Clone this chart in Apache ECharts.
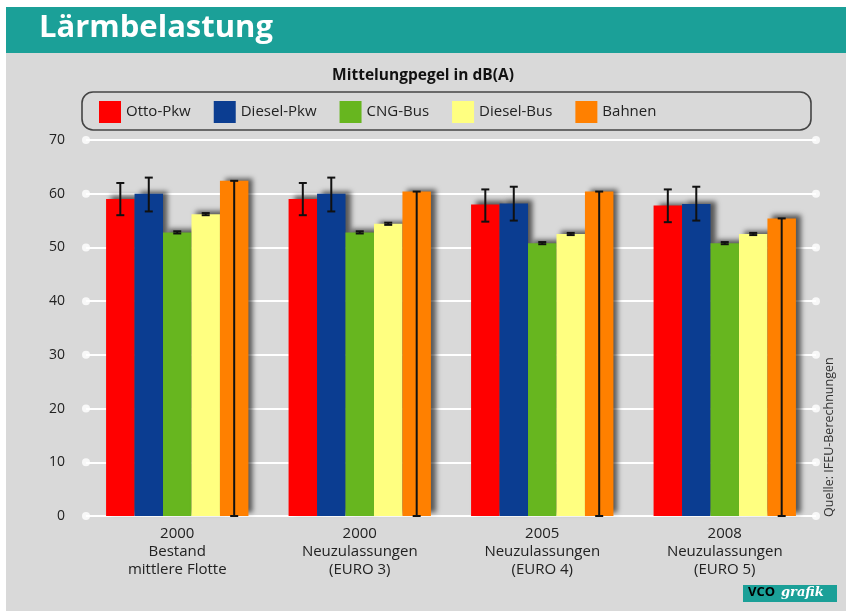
<!DOCTYPE html>
<html lang="de">
<head>
	<meta charset="utf-8">
	<title>Lärmbelastung</title>
	<script src="https://cdn.jsdelivr.net/npm/echarts@6/dist/echarts.min.js"></script>
	<style>
		html, body { margin: 0; padding: 0; background: #fff; }
		#chart { width: 846px; height: 611px; }
	</style>
</head>
<body>
<div id="chart"></div>
<script type="text/javascript">
	// Werte
	var categories = ['2000\nBestand\nmittlere Flotte', '2000\nNeuzulassungen\n(EURO 3)',
		'2005\nNeuzulassungen\n(EURO 4)', '2008\nNeuzulassungen\n(EURO 5)'];
	var seriesNames = ['Otto-Pkw', 'Diesel-Pkw', 'CNG-Bus', 'Diesel-Bus', 'Bahnen'];
	var seriesColors = ['#ff0000', '#0b3d91', '#67b61f', '#ffff80', '#ff8000'];

	var ottoPkw   = [59.0, 59.0, 58.0, 57.8];
	var dieselPkw = [60.0, 60.0, 58.2, 58.1];
	var cngBus    = [52.8, 52.8, 50.8, 50.8];
	var dieselBus = [56.2, 54.4, 52.5, 52.5];
	var bahnen    = [62.4, 60.4, 60.4, 55.4];

	// Fehlerbalken [unten, oben]
	var ottoErr   = [[56.0, 62.0], [56.0, 62.0], [54.8, 60.8], [54.7, 60.8]];
	var dieselErr = [[56.7, 63.0], [56.7, 63.0], [55.0, 61.3], [55.0, 61.3]];
	var cngErr    = [[52.6, 53.0], [52.6, 53.0], [50.6, 51.0], [50.6, 51.0]];
	var dbusErr   = [[56.0, 56.4], [54.2, 54.6], [52.3, 52.7], [52.3, 52.7]];
	var bahnenErr = [[0, 62.4], [0, 60.4], [0, 60.4], [0, 55.4]];

	var yTicks = [0, 10, 20, 30, 40, 50, 60, 70];

	var values = [ottoPkw, dieselPkw, cngBus, dieselBus, bahnen];
	var errors = [ottoErr, dieselErr, cngErr, dbusErr, bahnenErr];
	var catGap = 0.22;

	var myChart = echarts.init(document.getElementById('chart'));

	var barSeries = seriesNames.map(function (name, i) {
		return {
			name: name,
			type: 'bar',
			barGap: 0,
			barCategoryGap: (catGap * 100) + '%',
			data: values[i],
			itemStyle: {
				color: seriesColors[i],
				shadowColor: 'rgba(0,0,0,0.6)',
				shadowBlur: 5,
				shadowOffsetX: 5,
				shadowOffsetY: -3
			},
			z: 2
		};
	});

	var errData = [];
	errors.forEach(function (arr, s) {
		arr.forEach(function (e, c) {
			errData.push([c, s, e[0], e[1]]);
		});
	});

	var errSeries = {
		type: 'custom',
		data: errData,
		encode: { x: 0, y: [2, 3] },
		z: 5,
		silent: true,
		renderItem: function (params, api) {
			var c = api.value(0), s = api.value(1);
			var band = api.size([1, 0])[0];
			var bw = band * (1 - catGap) / seriesNames.length;
			var base = api.coord([c, 0]);
			var x = base[0] + (s - (seriesNames.length - 1) / 2) * bw;
			var lo = api.coord([c, api.value(2)])[1];
			var hi = api.coord([c, api.value(3)])[1];
			var st = { stroke: '#111', lineWidth: 2 };
			var cap = 4;
			return {
				type: 'group',
				children: [
					{ type: 'line', shape: { x1: x, y1: lo, x2: x, y2: hi }, style: st },
					{ type: 'line', shape: { x1: x - cap, y1: hi, x2: x + cap, y2: hi }, style: st },
					{ type: 'line', shape: { x1: x - cap, y1: lo, x2: x + cap, y2: lo }, style: st }
				]
			};
		}
	};

	var dotData = [];
	yTicks.forEach(function (t) { dotData.push([0, t]); dotData.push([1, t]); });

	var dotSeries = {
		type: 'scatter',
		xAxisIndex: 1,
		data: dotData,
		symbolSize: 8,
		itemStyle: { color: '#ffffff' },
		silent: true,
		z: 1
	};

	var option = {
		backgroundColor: '#ffffff',
		animation: false,
		textStyle: { fontFamily: 'Open Sans' },
		graphic: [
			{ type: 'rect', shape: { x: 6, y: 52, width: 840, height: 559 }, style: { fill: '#d9d9d9' }, z: -10 },
			{ type: 'rect', shape: { x: 6, y: 7, width: 840, height: 46 }, style: { fill: '#1ba098' }, z: -10 },
			{ type: 'text', left: 39, top: 13, style: { text: 'Lärmbelastung', fill: '#ffffff', font: 'bold 31px "Open Sans"' } },
			{ type: 'text', left: 'center', top: 68, style: { text: 'Mittelungpegel in dB(A)', fill: '#111', font: 'bold 15.5px "Open Sans"' } },
			{ type: 'rect', shape: { x: 82, y: 92, width: 729, height: 38, r: 11 }, style: { fill: 'none', stroke: '#444', lineWidth: 1.6 }, z: -5 },
			{ type: 'text', x: 823, y: 517, rotation: Math.PI / 2, style: { text: 'Quelle: IFEU-Berechnungen', fill: '#333', font: '12.5px "Open Sans"' } },
			{ type: 'rect', shape: { x: 743, y: 585, width: 94, height: 17 }, style: { fill: '#1ba098' } },
			{ type: 'text', x: 748, y: 586, style: { text: 'VCO', fill: '#000', font: 'bold 13px "Open Sans"' } },
			{ type: 'text', x: 781, y: 586, style: { text: 'grafik', fill: '#ffffff', font: 'italic bold 13px "DejaVu Serif"' } }
		],
		legend: {
			data: seriesNames,
			left: 99,
			top: 101,
			padding: 0,
			itemWidth: 22,
			itemHeight: 22,
			itemGap: 23,
			icon: 'rect',
			textStyle: { color: '#222', fontSize: 15, width: 101, fontFamily: 'Open Sans' }
		},
		grid: { left: 86, right: 30, top: 140, bottom: 95 },
		xAxis: [
			{
				type: 'category',
				data: categories,
				axisLine: { show: false },
				axisTick: { show: false },
				axisLabel: { color: '#222', fontSize: 15, lineHeight: 18, margin: 9 }
			},
			{ type: 'value', min: 0, max: 1, show: false }
		],
		yAxis: {
			type: 'value',
			min: 0,
			max: 70,
			interval: 10,
			axisLine: { show: false },
			axisTick: { show: false },
			axisLabel: { color: '#222', fontSize: 14, margin: 21 },
			splitLine: { lineStyle: { color: '#ffffff', width: 2 } }
		},
		series: barSeries.concat([errSeries, dotSeries])
	};
	myChart.setOption(option);
</script>
</body>
</html>
